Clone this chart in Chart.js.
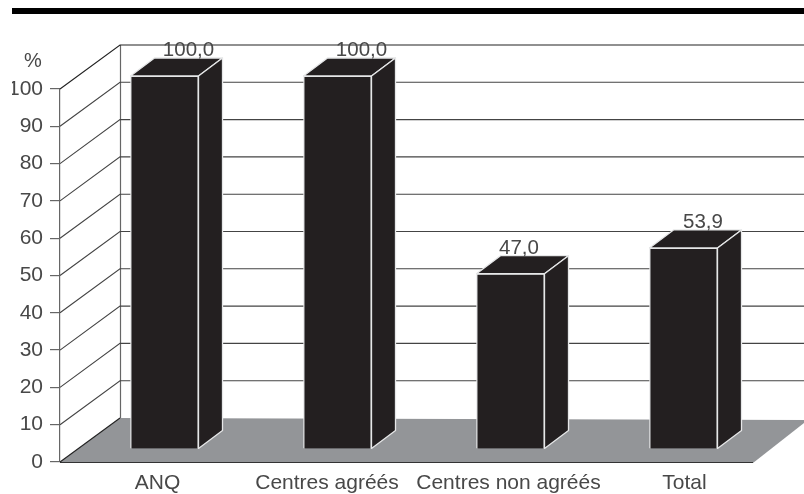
<!DOCTYPE html>
<html>
<head>
<meta charset="utf-8">
<style>html,body{margin:0;padding:0;background:#fff}canvas{display:block}</style>
<script src="https://cdn.jsdelivr.net/npm/chart.js@4"></script>
</head>
<body>
<canvas id="c" width="804" height="494"></canvas>
<script>
const categories = ["ANQ", "Centres agréés", "Centres non agréés", "Total"];
const values = [100.0, 100.0, 47.0, 53.9];
const valueLabels = ["100,0", "100,0", "47,0", "53,9"];
const yTitle = "%";

const FONT = '"Liberation Sans", Arial, sans-serif';
const TEXT = '#484848';
const wall = {dx: 60, dy: 44};
const shift = {dx: 18, dy: 13};
const depth = {dx: 24, dy: 18};
const labelNudges = [-4, -7.5, 1, 4];
const valueNudges = [24, 24, 8.5, 19.5];

const scene = {
  id: 'scene',
  beforeDraw(chart) {
    const items = chart.scales.x.getLabelItems();
    items.forEach((it, i) => { if (!it._n) { it.options.translation[0] += labelNudges[i]; it._n = true; } });
  },
  beforeDatasetsDraw(chart) {
    const {ctx, chartArea: a, scales: {y}} = chart;
    const y0 = y.getPixelForValue(0);
    ctx.save();
    // the reference is cropped on the left: this cuts the "1" of 100
    ctx.fillStyle = '#fff';
    ctx.fillRect(0, 0, 12, chart.height);
    // top rule
    ctx.fillStyle = '#000';
    ctx.fillRect(12, 8, 792, 6);
    // floor
    ctx.fillStyle = '#939598';
    ctx.beginPath();
    ctx.moveTo(a.left, y0);
    ctx.lineTo(a.left + wall.dx, y0 - wall.dy);
    ctx.lineTo(804, y0 - wall.dy + 2);
    ctx.lineTo(804, y0 - wall.dy + 5);
    ctx.lineTo(a.right + 1, y0 + 1);
    ctx.closePath();
    ctx.fill();
    // front floor edge
    ctx.strokeStyle = '#333';
    ctx.lineWidth = 1.2;
    ctx.beginPath();
    ctx.moveTo(a.left, y0 + 0.5);
    ctx.lineTo(a.right + 1, y0 + 0.5);
    ctx.stroke();
    // wall and grid
    ctx.strokeStyle = '#666';
    ctx.lineWidth = 1.2;
    ctx.beginPath();
    ctx.moveTo(a.left + wall.dx + 0.5, y.getPixelForValue(100) - wall.dy);
    ctx.lineTo(a.left + wall.dx + 0.5, y0 - wall.dy);
    ctx.stroke();
    y.ticks.forEach(t => {
      const py = y.getPixelForValue(t.value);
      ctx.strokeStyle = t.value === 100 || t.value === 0 ? '#222' : '#444';
      ctx.lineWidth = 1.1;
      ctx.beginPath();
      ctx.moveTo(a.left, py);
      ctx.lineTo(a.left + wall.dx, py - wall.dy);
      if (t.value !== 0) ctx.lineTo(804, py - wall.dy);
      ctx.stroke();
    });
    // % label
    ctx.fillStyle = TEXT;
    ctx.font = '20px ' + FONT;
    ctx.textAlign = 'center';
    ctx.textBaseline = 'middle';
    ctx.fillText(yTitle, 33, y.getPixelForValue(100) - 28);
    ctx.restore();
    ctx.save();
    ctx.translate(shift.dx, -shift.dy);
  },
  afterDatasetsDraw(chart) {
    const {ctx} = chart;
    const bars = chart.getDatasetMeta(0).data;
    bars.forEach((b, i) => {
      const l = b.x - b.width / 2, r = b.x + b.width / 2, t = b.y, bt = b.base;
      ctx.fillStyle = '#231f20';
      ctx.strokeStyle = '#e6e7e8';
      ctx.lineWidth = 1.3;
      ctx.lineJoin = 'round';
      ctx.beginPath();
      ctx.moveTo(l, t);
      ctx.lineTo(l + depth.dx, t - depth.dy);
      ctx.lineTo(r + depth.dx, t - depth.dy);
      ctx.lineTo(r, t);
      ctx.closePath();
      ctx.fill();
      ctx.stroke();
      ctx.beginPath();
      ctx.moveTo(r, t);
      ctx.lineTo(r + depth.dx, t - depth.dy);
      ctx.lineTo(r + depth.dx, bt - depth.dy);
      ctx.lineTo(r, bt);
      ctx.closePath();
      ctx.fill();
      ctx.stroke();
      ctx.fillStyle = TEXT;
      ctx.font = '20.5px ' + FONT;
      ctx.textAlign = 'center';
      ctx.textBaseline = 'middle';
      ctx.fillText(valueLabels[i], b.x + valueNudges[i], t - 25.5);
    });
    ctx.restore();
  }
};

new Chart(document.getElementById('c'), {
  type: 'bar',
  data: {
    labels: categories,
    datasets: [{
      data: values,
      backgroundColor: '#231f20',
      borderColor: '#e6e7e8',
      borderWidth: 1.3,
      barThickness: 68,
      clip: false
    }]
  },
  plugins: [scene],
  options: {
    responsive: false,
    animation: false,
    events: [],
    layout: {padding: {top: 89, right: 52, bottom: 0, left: 0}},
    plugins: {legend: {display: false}, tooltip: {enabled: false}, title: {display: false}},
    scales: {
      x: {
        grid: {display: false},
        border: {display: false},
        afterFit(s) { s.height = 32; },
        ticks: {
          maxRotation: 0, autoSkip: false, padding: 1, labelOffset: 15,
          color: TEXT, font: {family: FONT, size: 21}
        }
      },
      y: {
        min: 0, max: 100,
        afterFit(s) { s.width = 60; },
        grid: {drawOnChartArea: false, drawTicks: true, tickLength: 10, color: '#666', lineWidth: 1.2},
        border: {color: '#666', width: 1.2},
        ticks: {stepSize: 10, padding: 7, color: TEXT, font: {family: FONT, size: 21}}
      }
    }
  }
});
</script>
</body>
</html>
